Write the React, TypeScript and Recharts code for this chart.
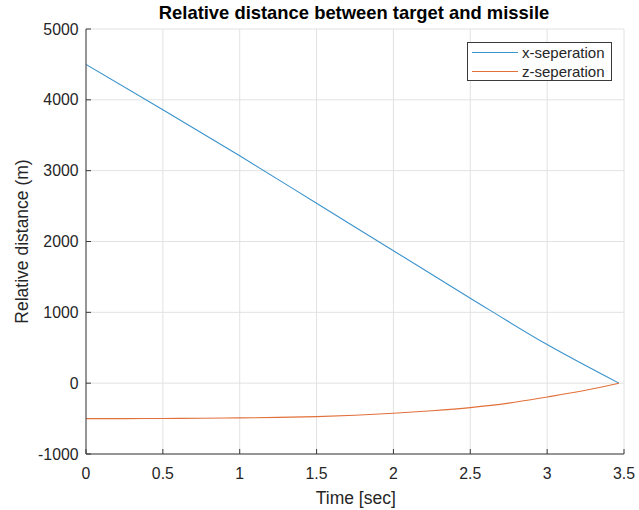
import React from "react";
import { LineChart, Line, XAxis, YAxis, CartesianGrid } from "recharts";

const timeX = [0, 0.5, 1, 1.5, 2, 2.5, 3, 3.467];
const xSeparation = [4500, 3860, 3210, 2540, 1870, 1200, 545, 0];

const timeZ = [0, 0.25, 0.5, 0.75, 1, 1.25, 1.5, 1.75, 2, 2.25, 2.5, 2.75, 3, 3.25, 3.467];
const zSeparation = [-500, -500, -498, -495, -490, -483, -472, -453, -425, -390, -345, -282, -195, -100, 0];

const xTicks = [0, 0.5, 1, 1.5, 2, 2.5, 3, 3.5];
const yTicks = [-1000, 0, 1000, 2000, 3000, 4000, 5000];

const seriesNames = ["x-seperation", "z-seperation"];
const seriesColors = ["#3b93cc", "#e2703a"];

const xData = timeX.map((t, i) => ({ t, v: xSeparation[i] }));
const zData = timeZ.map((t, i) => ({ t, v: zSeparation[i] }));

const AXIS = "#3a3a3a";
const TEXT = "#262626";
const FONT = "'Liberation Sans', Arial, Helvetica, sans-serif";
const TICK_FS = 15.8;
const LABEL_FS = 17.5;

const XTickBottom = (props: any) => {
  const { x, y, payload } = props;
  return (
    <g>
      <line x1={x} y1={y} x2={x} y2={y - 5} stroke={AXIS} strokeWidth={1} />
      <text x={x} y={y + 19} textAnchor="middle" dominantBaseline="central" fontSize={TICK_FS} fill={TEXT} fontFamily={FONT}>
        {payload.value}
      </text>
    </g>
  );
};

const XTickTop = (props: any) => {
  const { x, y } = props;
  return <line x1={x} y1={y} x2={x} y2={y + 5} stroke={AXIS} strokeWidth={1} />;
};

const YTickLeft = (props: any) => {
  const { x, y, payload } = props;
  return (
    <g>
      <line x1={x} y1={y} x2={x + 5} y2={y} stroke={AXIS} strokeWidth={1} />
      <text x={x - 7.5} y={y} textAnchor="end" dominantBaseline="central" fontSize={TICK_FS} fill={TEXT} fontFamily={FONT}>
        {payload.value}
      </text>
    </g>
  );
};

const YTickRight = (props: any) => {
  const { x, y } = props;
  return <line x1={x} y1={y} x2={x - 5} y2={y} stroke={AXIS} strokeWidth={1} />;
};

export default function App() {
  return (
    <div style={{ position: "absolute", left: 0, top: 0, width: 639, height: 510, background: "#fff", fontFamily: FONT }}>
      <LineChart
        width={639}
        height={510}
        margin={{ top: 29, right: 15, bottom: 0, left: 16 }}
        style={{ fontFamily: FONT }}
      >
        <CartesianGrid stroke="#e2e2e2" strokeWidth={1} />
        <XAxis
          dataKey="t"
          type="number"
          domain={[0, 3.5]}
          ticks={xTicks}
          interval={0}
          allowDataOverflow
          height={56}
          tickSize={0}
          tickMargin={0}
          tickLine={false}
          axisLine={{ stroke: AXIS }}
          tick={<XTickBottom />}
          label={{
            content: () => (
              <text x={355.8} y={498} textAnchor="middle" dominantBaseline="central" fontSize={LABEL_FS} fill={TEXT} fontFamily={FONT}>
                Time [sec]
              </text>
            ),
          }}
        />
        <XAxis
          xAxisId="top"
          orientation="top"
          dataKey="t"
          type="number"
          domain={[0, 3.5]}
          ticks={xTicks}
          interval={0}
          allowDataOverflow
          height={0}
          tickSize={0}
          tickMargin={0}
          tickLine={false}
          axisLine={{ stroke: AXIS }}
          tick={<XTickTop />}
        />
        <YAxis
          type="number"
          domain={[-1000, 5000]}
          ticks={yTicks}
          interval={0}
          allowDataOverflow
          width={70}
          tickSize={0}
          tickMargin={0}
          tickLine={false}
          axisLine={{ stroke: AXIS }}
          tick={<YTickLeft />}
          label={{
            content: () => (
              <text
                x={22}
                y={241.5}
                transform="rotate(-90 22 241.5)"
                textAnchor="middle"
                dominantBaseline="central"
                fontSize={LABEL_FS}
                fill={TEXT}
                fontFamily={FONT}
              >
                Relative distance (m)
              </text>
            ),
          }}
        />
        <YAxis
          yAxisId="right"
          orientation="right"
          type="number"
          domain={[-1000, 5000]}
          ticks={yTicks}
          interval={0}
          allowDataOverflow
          width={0}
          tickSize={0}
          tickMargin={0}
          tickLine={false}
          axisLine={{ stroke: AXIS }}
          tick={<YTickRight />}
        />
        <Line
          data={xData}
          dataKey="v"
          name={seriesNames[0]}
          type="monotone"
          stroke={seriesColors[0]}
          strokeWidth={1.1}
          dot={false}
          activeDot={false}
          isAnimationActive={false}
        />
        <Line
          data={zData}
          dataKey="v"
          name={seriesNames[1]}
          type="monotone"
          stroke={seriesColors[1]}
          strokeWidth={1.1}
          dot={false}
          activeDot={false}
          isAnimationActive={false}
        />
      </LineChart>
      <div
        style={{
          position: "absolute",
          left: 0,
          top: 3,
          width: 708,
          textAlign: "center",
          fontSize: 18.4,
          fontWeight: "bold",
          color: "#000",
          lineHeight: "20px",
          whiteSpace: "nowrap",
        }}
      >
        Relative distance between target and missile
      </div>
      <div
        style={{
          position: "absolute",
          left: 467,
          top: 42,
          width: 145,
          height: 39,
          border: "1px solid " + AXIS,
          background: "#fff",
          boxSizing: "border-box",
          fontSize: 15,
          color: TEXT,
        }}
      >
        {seriesNames.map((n, i) => (
          <div key={n} style={{ position: "absolute", left: 0, top: 1 + i * 19, height: 17, display: "flex", alignItems: "center" }}>
            <div style={{ marginLeft: 4, width: 46, height: 1, background: seriesColors[i] }} />
            <span style={{ marginLeft: 4, lineHeight: "17px", whiteSpace: "nowrap" }}>{n}</span>
          </div>
        ))}
      </div>
    </div>
  );
}
